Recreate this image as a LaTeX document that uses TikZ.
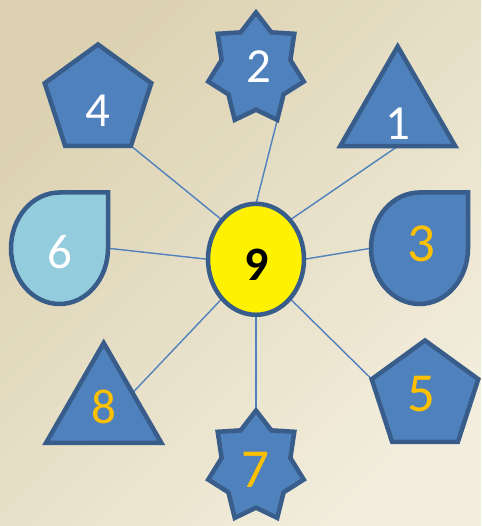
\documentclass[tikz,border=0pt]{standalone}
\usepackage{fontspec}
\setmainfont{Carlito}
\usetikzlibrary{shapes.geometric}

\definecolor{shapefill}{HTML}{4F81BD}
\definecolor{shapeline}{HTML}{385D8A}
\definecolor{dropfill}{HTML}{93CDDD}
\definecolor{numorange}{HTML}{FFC000}
\definecolor{bgtop}{HTML}{DCD2B2}
\definecolor{bgbottom}{HTML}{F2EDDC}

\pgfdeclarelayer{back}
\pgfdeclarelayer{links}
\pgfsetlayers{back,links,main}

\tikzset{
  shp/.style={draw=shapeline, fill=shapefill, line width=4.5pt},
  link/.style={draw=shapefill, line width=1.4pt},
  pent/.style={shp, regular polygon, regular polygon sides=5, minimum size=112pt, inner sep=0pt, outer sep=0pt},
  tri/.style={shp, regular polygon, regular polygon sides=3, minimum size=133pt, inner sep=0pt, outer sep=0pt},
  numw/.style={text=white, inner sep=0pt, font=\fontsize{49}{49}\selectfont},
  numo/.style={text=numorange, inner sep=0pt, font=\fontsize{55}{55}\selectfont},
}

\begin{document}
\begin{tikzpicture}[x=1pt, y=-1pt]
  \useasboundingbox (0,0) rectangle (481,526);
  \begin{pgfonlayer}{back}
    \shade[top color=bgtop, bottom color=bgbottom, shading angle=45] (0,0) rectangle (481,526);
  \end{pgfonlayer}

  % centre
  \node (c9) [shp, ellipse, fill=yellow, minimum width=96pt, minimum height=111pt, inner sep=0pt, outer sep=0pt] at (256,259.3) {};
  \node (n9) [inner sep=0pt, font=\fontsize{48}{48}\selectfont\bfseries] at (256.3,264.3) {9};

  % pentagons and triangles
  \node (p4) [pent] at (98,100.5) {};
  \node (p5) [pent] at (425,396.5) {};
  \node (t1) [tri] at (397.7,113) {};
  \node (t8) [tri] at (103.7,409.5) {};

  % stars
  \draw[shp, shift={(256,69)}] plot[samples at={0,...,13}] ({49*(1-0.28*mod(\x,2))*cos(90+\x*360/14)}, {-56.5*(1-0.28*mod(\x,2))*sin(90+\x*360/14)}) -- cycle;
  \draw[shp, shift={(256,467)}] plot[samples at={0,...,13}] ({49*(1-0.28*mod(\x,2))*cos(90+\x*360/14)}, {-56.5*(1-0.28*mod(\x,2))*sin(90+\x*360/14)}) -- cycle;
  \coordinate (s2) at (277.3,119.9);
  \coordinate (s7) at (256,410.5);

  % drops
  \draw[shp, fill=dropfill] (59.5,192.5) -- (108,192.5) -- (108,248.25) arc[start angle=0, end angle=270, x radius=48.5, y radius=55.75] -- cycle;
  \draw[shp] (419.5,192.5) -- (468,192.5) -- (468,248.25) arc[start angle=0, end angle=270, x radius=48.5, y radius=55.75] -- cycle;
  \coordinate (d6) at (108,248.25);
  \coordinate (d3) at (371,248.25);

  % numbers
  \node (n1) [numw] at (398,123.7) {1};
  \node (n2) [numw] at (259,66.3) {2};
  \node (n3) [numo] at (421,243.8) {3};
  \node (n4) [numw] at (98,111.2) {4};
  \node (n5) [numo] at (421,393.8) {5};
  \node (n6) [numw] at (60,252.5) {6};
  \node (n7) [numo] at (255.5,470) {7};
  \node (n8) [numo, font=\fontsize{49}{49}\selectfont] at (103.7,407) {8};

  \begin{pgfonlayer}{links}
    \draw[link] (c9.north west) -- (p4.corner 4);
    \draw[link] (c9.north) -- (s2);
    \draw[link] (c9.north east) -- (t1.south);
    \draw[link] (c9.west) -- (d6);
    \draw[link] (c9.east) -- (d3);
    \draw[link] (c9.south west) -- (t8.side 3);
    \draw[link] (c9.south) -- (s7);
    \draw[link] (c9.south east) -- (p5.corner 2);
  \end{pgfonlayer}
\end{tikzpicture}
\end{document}
